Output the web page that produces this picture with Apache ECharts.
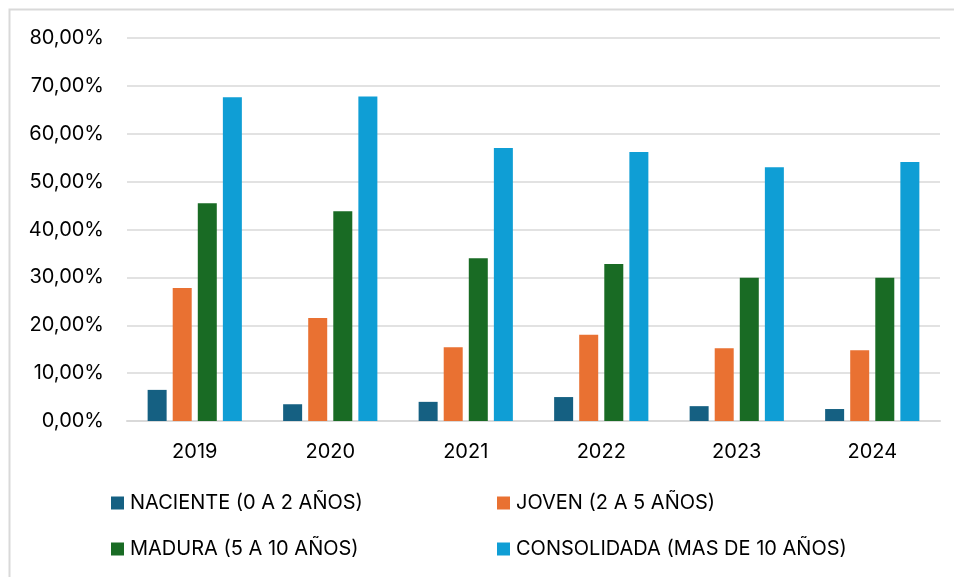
<!DOCTYPE html>
<html>
<head>
<meta charset="utf-8">
<script src="https://cdn.jsdelivr.net/npm/echarts@6/dist/echarts.min.js"></script>
<style>
  html, body { margin: 0; padding: 0; background: #fff; }
  #main { width: 954px; height: 577px; }
</style>
</head>
<body>
<div id="main"></div>
<script>
// años
var years = ['2019', '2020', '2021', '2022', '2023', '2024'];
// porcentajes por etapa
var naciente = [6.5, 3.5, 4.0, 5.0, 3.1, 2.5];
var joven = [27.8, 21.5, 15.4, 18.0, 15.2, 14.8];
var madura = [45.5, 43.8, 34.0, 32.8, 29.9, 29.9];
var consolidada = [67.6, 67.8, 57.0, 56.2, 53.0, 54.1];
var names = ['NACIENTE (0 A 2 AÑOS)', 'JOVEN (2 A 5 AÑOS)', 'MADURA (5 A 10 AÑOS)', 'CONSOLIDADA (MAS DE 10 AÑOS)'];
var colors = ['#156082', '#E97132', '#196B24', '#0F9ED5'];

var myChart = echarts.init(document.getElementById('main'));
var font = 'Inter, "Liberation Sans", sans-serif';

function legendAt(i, left, top) {
  return {
    data: [names[i]],
    left: left,
    top: top,
    itemWidth: 13,
    itemHeight: 13,
    itemGap: 0,
    icon: 'rect',
    textStyle: { fontFamily: font, fontSize: 20, color: '#000', padding: [0, 0, 0, 1] }
  };
}

function bar(i, data) {
  return {
    name: names[i],
    type: 'bar',
    data: data,
    barWidth: 19,
    barGap: '32%',
    itemStyle: { color: colors[i] }
  };
}

var option = {
  animation: false,
  color: colors,
  graphic: [{
    type: 'polyline',
    shape: { points: [[9.5, 577], [9.5, 9.5], [954, 9.5]] },
    style: { fill: null, stroke: '#d9d9d9', lineWidth: 2 }
  }],
  grid: { left: 127, right: 14, top: 38, bottom: 156 },
  legend: [
    legendAt(0, 106, 488),
    legendAt(1, 492, 488),
    legendAt(2, 106, 534),
    legendAt(3, 492, 534)
  ],
  xAxis: {
    type: 'category',
    data: years,
    axisLine: { lineStyle: { color: '#d9d9d9', width: 2 } },
    axisTick: { show: false },
    axisLabel: { fontFamily: font, fontSize: 20, color: '#000', margin: 21 }
  },
  yAxis: {
    type: 'value',
    min: 0,
    max: 80,
    interval: 10,
    axisLine: { show: false },
    axisTick: { show: false },
    splitLine: { lineStyle: { color: '#d9d9d9', width: 1.5 } },
    axisLabel: {
      fontFamily: font, fontSize: 20, color: '#000', margin: 23,
      formatter: function (v) { return v.toFixed(2).replace('.', ',') + '%'; }
    }
  },
  series: [
    bar(0, naciente),
    bar(1, joven),
    bar(2, madura),
    bar(3, consolidada)
  ]
};

myChart.setOption(option);
</script>
</body>
</html>
